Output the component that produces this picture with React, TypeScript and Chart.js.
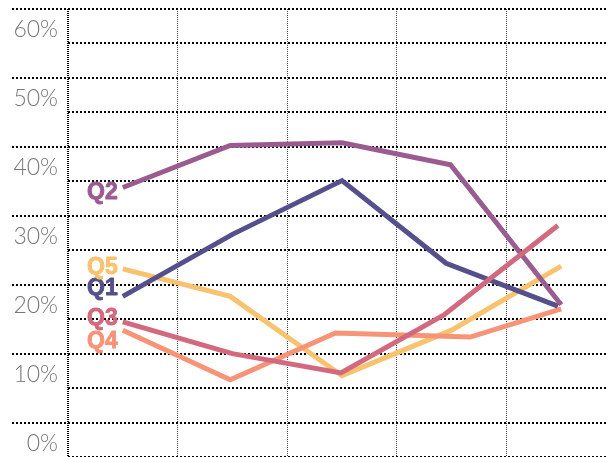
import { useEffect, useRef } from 'react';
import { Chart, registerables } from 'chart.js';
Chart.register(...registerables);

const seriesNames = ['Q1', 'Q2', 'Q3', 'Q4', 'Q5'];
const seriesColors = ['#55508c', '#9a5b91', '#d3697f', '#f79377', '#f8c26e'];
const q1X = [0.5, 1.5, 2.5, 3.45, 4.47];
const q1Y = [18.3, 27.3, 35.1, 23.1, 16.9];
const q2X = [0.5, 1.48, 2.5, 3.49, 4.5];
const q2Y = [34.1, 40.2, 40.6, 37.4, 17.1];
const q3X = [0.5, 1.5, 2.49, 3.43, 4.47];
const q3Y = [14.6, 10.0, 7.2, 15.6, 28.6];
const q4X = [0.5, 1.48, 2.44, 3.67, 4.5];
const q4Y = [13.4, 6.2, 13.0, 12.4, 16.5];
const q5X = [0.5, 1.48, 2.5, 3.5, 4.5];
const q5Y = [22.3, 18.3, 6.8, 13.4, 22.7];
const labelNudge = [-8, 5, -3, 11, -1];
const yMin = -5;
const yMax = 60;
const yStep = 5;
const labelStep = 10;

const xs = [q1X, q2X, q3X, q4X, q5X];
const ys = [q1Y, q2Y, q3Y, q4Y, q5Y];

const seriesLabelPlugin = {
  id: 'seriesLabels',
  afterDatasetsDraw(chart: any) {
    const ctx = chart.ctx;
    ctx.save();
    ctx.font = 'bold 23px "Liberation Sans", Arial, sans-serif';
    ctx.textAlign = 'right';
    ctx.textBaseline = 'middle';
    ctx.lineWidth = 0.9;
    ctx.lineJoin = 'round';
    chart.data.datasets.forEach((ds: any, i: number) => {
      const meta = chart.getDatasetMeta(i);
      const p = meta.data[0];
      if (!p) return;
      ctx.fillStyle = ds.borderColor;
      ctx.strokeStyle = ds.borderColor;
      ctx.fillText(ds.label, p.x - 5, p.y + ds.nudge);
      ctx.strokeText(ds.label, p.x - 5, p.y + ds.nudge);
    });
    ctx.restore();
  },
};

export default function App() {
  const ref = useRef<HTMLCanvasElement | null>(null);
  useEffect(() => {
    if (!ref.current) return;
    const order = [2, 1, 0, 3, 4];
    const datasets = order.map((i) => ({
      label: seriesNames[i],
      data: xs[i].map((x, k) => ({ x, y: ys[i][k] })),
      borderColor: seriesColors[i],
      backgroundColor: seriesColors[i],
      borderWidth: 5,
      pointRadius: 0,
      tension: 0,
      fill: false,
      nudge: labelNudge[i],
    }));
    const chart = new Chart(ref.current, {
      type: 'line',
      data: { datasets: datasets as any },
      options: {
        animation: false,
        responsive: false,
        layout: { padding: { top: 1, left: 0, right: 0, bottom: 0 } },
        plugins: { legend: { display: false }, tooltip: { enabled: false } },
        scales: {
          x: {
            type: 'linear',
            min: 0,
            max: 5,
            ticks: { display: false, stepSize: 1 },
            grid: {
              color: (c: any) => (c.tick && c.tick.value === 0 ? '#000' : '#444'),
              lineWidth: (c: any) => (c.tick && c.tick.value === 0 ? 2 : 1),
              drawTicks: false,
            },
            border: { display: false, dash: [1, 1] },
          },
          y: {
            type: 'linear',
            min: yMin,
            max: yMax,
            afterFit: (scale: any) => {
              scale.width = 60;
              scale.paddingTop = 0;
              scale.paddingBottom = 0;
            },
            ticks: {
              stepSize: yStep,
              autoSkip: false,
              padding: -46,
              labelOffset: 21,
              color: '#777',
              font: { family: 'Lato, "Liberation Sans", sans-serif', size: 23, weight: '300' as any },
              callback: (v: any) => (Number(v) % labelStep === 0 && Number(v) >= 0 ? `${v}%` : ''),
            },
            grid: {
              color: '#000',
              lineWidth: 2,
              drawTicks: true,
              tickLength: 56,
              tickWidth: 2,
              tickBorderDash: [2, 2],
              tickColor: (c: any) =>
                c.tick && c.tick.value % labelStep === 0 && c.tick.value >= 0 ? '#000' : 'rgba(0,0,0,0)',
            } as any,
            border: { display: false, dash: [2, 2] },
          },
        },
      },
      plugins: [seriesLabelPlugin],
    });
    return () => chart.destroy();
  }, []);
  return (
    <div style={{ width: 608, height: 449 }}>
      <canvas ref={ref} width={608} height={449} style={{ display: 'block' }} />
    </div>
  );
}
